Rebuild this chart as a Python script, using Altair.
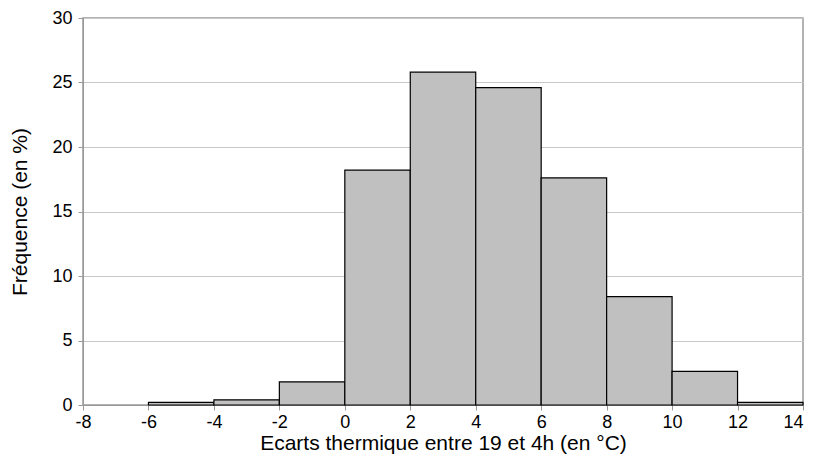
import altair as alt
import pandas as pd

bin_start = [-8, -6, -4, -2, 0, 2, 4, 6, 8, 10, 12]
bin_end = [-6, -4, -2, 0, 2, 4, 6, 8, 10, 12, 14]
freq = [0.0, 0.2, 0.4, 1.8, 18.2, 25.8, 24.6, 17.6, 8.4, 2.6, 0.2]
x_ticks = list(range(-8, 15, 2))
y_ticks = [0, 5, 10, 15, 20, 25, 30]

df = pd.DataFrame({"start": bin_start, "end": bin_end, "freq": freq})
df = df[df["freq"] > 0]

FONT = "Liberation Sans"

chart = alt.Chart(df).mark_rect(
    fill="#c0c0c0", stroke="#000000", strokeWidth=1.2
).encode(
    x=alt.X("start:Q",
            scale=alt.Scale(domain=[-8, 14], nice=False, zero=False),
            axis=alt.Axis(values=x_ticks, title="Ecarts thermique entre 19 et 4h (en °C)",
                          labelExpr="datum.value + ''", labelFlush=False,
                          labelAlign=alt.ExprRef(expr="datum.value == 14 ? 'right' : 'center'"),
                          grid=False, tickSize=5, tickColor="#999999",
                          domainColor="#999999", labelFontSize=18, titleFontSize=21,
                          labelPadding=3, titlePadding=1, labelColor="#000000",
                          titleColor="#000000", titleFontWeight="normal",
                          labelFont=FONT, titleFont=FONT)),
    x2="end:Q",
    y=alt.Y("freq:Q",
            scale=alt.Scale(domain=[0, 30], nice=False),
            axis=alt.Axis(values=y_ticks, title="Fréquence (en %)", labelFlush=False,
                          grid=True, gridColor="#c8c8c8", gridWidth=1,
                          tickSize=5, tickColor="#999999", domainColor="#999999",
                          labelFontSize=18, titleFontSize=21, labelPadding=6,
                          titlePadding=21, labelColor="#000000", titleColor="#000000",
                          titleFontWeight="normal", labelFont=FONT, titleFont=FONT)),
    y2=alt.datum(0),
).properties(
    width=720, height=387,
    autosize=alt.AutoSizeParams(type="none"),
    padding={"left": 75, "top": 10, "right": 3, "bottom": 60},
).configure_view(
    stroke="#999999", strokeWidth=1.5
)

chart.save("out.html", embed_options={"renderer": "svg", "actions": False})
